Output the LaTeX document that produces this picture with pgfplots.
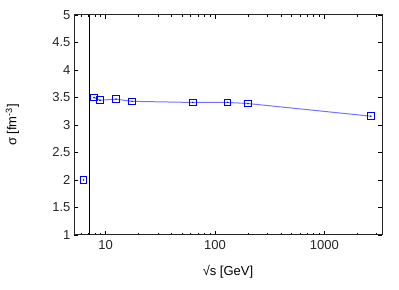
\documentclass[border=0pt]{standalone}
\usepackage{fontspec}
\setmainfont{Liberation Sans}
\usepackage{pgfplots}
\usetikzlibrary{calc}
\pgfplotsset{compat=1.18}
\begin{document}
\begin{tikzpicture}[x=1pt,y=1pt]
\begin{axis}[
  name=ax,
  scale only axis,
  width=308pt, height=220pt,
  xmode=log,
  xmin=5.13, xmax=3360,
  ymin=1, ymax=5,
  ytick={1,1.5,2,2.5,3,3.5,4,4.5,5},
  yticklabels={1,1.5,2,2.5,3,3.5,4,4.5,5},
  xtick={10,100,1000},
  xticklabels={10,100,1000},
  minor xtick={6,7,8,9,20,30,40,50,60,70,80,90,200,300,400,500,600,700,800,900,2000,3000},
  tick align=inside,
  major tick length=4pt,
  minor tick length=2pt,
  every tick/.style={black, line width=0.7pt},
  axis line style={line width=1pt, black!85},
  tick label style={font=\fontsize{13}{15}\selectfont, black!85},
  xticklabel style={yshift=-1.5pt},
  /pgf/number format/assume math mode=true,
  xlabel={\fontsize{13}{15}\selectfont √s [GeV]},
  ylabel={\fontsize{13}{15}\selectfont σ [fm\textsuperscript{-3}]},
  xlabel style={at={(axis description cs:0.5,-0.168)}, anchor=center},
  ylabel style={at={(axis description cs:-0.2,0.5)}, anchor=center},
  clip=false,
]
% vertical line
\addplot[black, line width=0.9pt, mark=none] coordinates {(7.1,1) (7.1,5)};
% isolated point
\addplot[only marks, blue, mark=square, mark size=3.3pt, line width=0.9pt] coordinates {(6.27,2.0)};
% connected series
\addplot[blue!55, line width=1pt, mark=square, mark size=3.3pt,
  mark options={blue, line width=0.9pt, solid}] coordinates {
  (7.82,3.50) (8.87,3.45) (12.4,3.47) (17.4,3.43) (62.4,3.41) (130,3.41) (200,3.39) (2660,3.16)
};
% centre dots
\addplot[only marks, blue, mark=*, mark size=0.5pt] coordinates {
  (6.27,2.0) (7.82,3.50) (8.87,3.45) (12.4,3.47) (17.4,3.43) (62.4,3.41) (130,3.41) (200,3.39) (2660,3.16)
};
\end{axis}
\path ($(ax.south west)+(-74pt,-55pt)$) rectangle ($(ax.north east)+(17pt,15pt)$);
\end{tikzpicture}
\end{document}
